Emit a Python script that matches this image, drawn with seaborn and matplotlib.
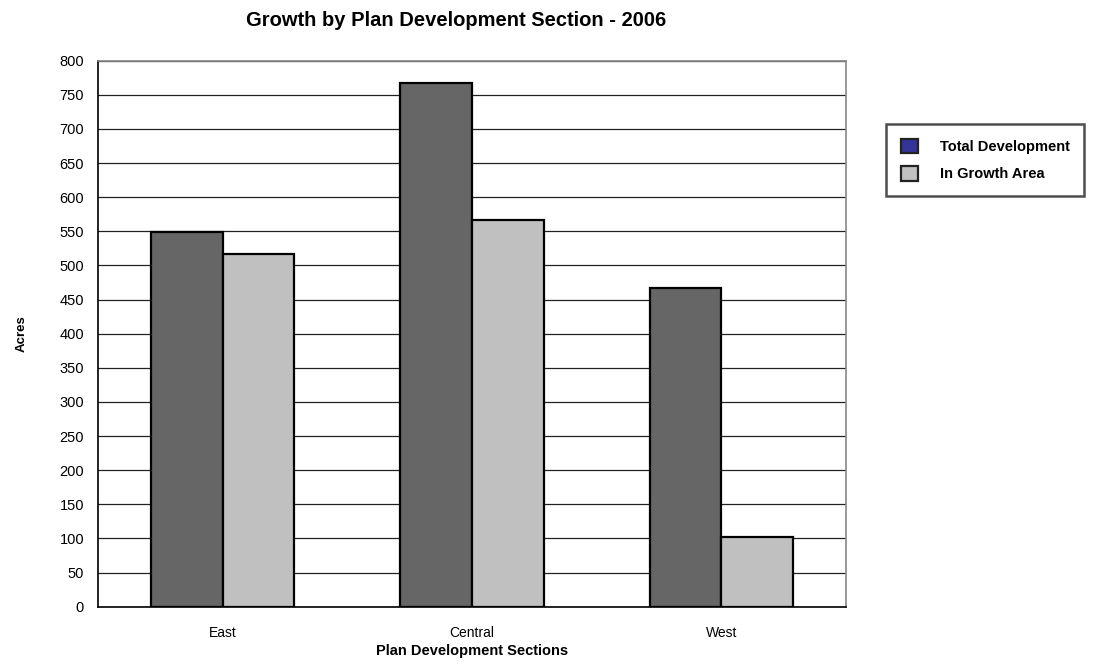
import matplotlib
matplotlib.use("Agg")
import matplotlib.pyplot as plt
from matplotlib.patches import Patch
import seaborn as sns
import pandas as pd
import numpy as np

sections = ["East", "Central", "West"]
total_development = [549, 768, 467]
in_growth_area = [517, 566, 102]
series_names = ["Total Development", "In Growth Area"]
y_ticks = list(range(0, 801, 50))

df = pd.DataFrame({
    "Section": sections * 2,
    "Acres": total_development + in_growth_area,
    "Series": [series_names[0]] * 3 + [series_names[1]] * 3,
})

sns.set_theme(style="white")
plt.rcParams["font.family"] = ["Liberation Sans", "DejaVu Sans"]
plt.rcParams.update({"text.color": "black", "axes.labelcolor": "black",
                     "xtick.color": "black", "ytick.color": "black"})

fig = plt.figure(figsize=(10.97, 6.69), dpi=100)
ax = fig.add_axes([0.0893, 0.0931, 0.7712 - 0.0893, 0.9093 - 0.0931])

bar_colors = {series_names[0]: "#666666", series_names[1]: "#C0C0C0"}
sns.barplot(data=df, x="Section", y="Acres", hue="Series", order=sections,
            hue_order=series_names, palette=bar_colors, width=0.574,
            edgecolor="black", linewidth=1.6, saturation=1, ax=ax, legend=False,
            zorder=3)

ax.set_ylim(0, 800)
ax.set_xlim(-0.5, 2.5)
ax.set_yticks(y_ticks)
ax.set_yticklabels([str(v) for v in y_ticks], fontsize=10.5)
ax.yaxis.grid(True, color="#222222", linewidth=0.9, zorder=0)
ax.set_axisbelow(True)

# category labels centred, tick marks between categories
ax.set_xticks(range(len(sections)))
ax.set_xticklabels(sections, fontsize=10)
ax.set_xticks(np.arange(-0.5, 3.0, 1.0), minor=True)
ax.tick_params(axis="x", which="major", length=0, pad=14)
ax.tick_params(axis="x", which="minor", length=5, width=1, color="black", direction="out")
ax.tick_params(axis="y", which="major", length=5, width=1, color="black", direction="out", pad=5)

for side in ["left", "bottom"]:
    ax.spines[side].set_color("black")
    ax.spines[side].set_linewidth(1.2)
for side in ["top", "right"]:
    ax.spines[side].set_visible(True)
    ax.spines[side].set_color("#888888")
    ax.spines[side].set_linewidth(1.2)

ax.set_xlabel("Plan Development Sections", fontsize=10.5, fontweight="bold", labelpad=3)
ax.set_ylabel("Acres", fontsize=9.5, fontweight="bold", labelpad=23)

fig.text(0.416, 0.969, "Growth by Plan Development Section - 2006",
         ha="center", va="center", fontsize=14.5, fontweight="bold")

handles = [Patch(facecolor="#333399", edgecolor="#222222", linewidth=1.6),
           Patch(facecolor="#C0C0C0", edgecolor="#222222", linewidth=1.6)]
leg = fig.legend(handles, series_names, loc="upper left",
                 bbox_to_anchor=(0.8077, 0.8146), frameon=True, fancybox=False,
                 prop={"size": 10.5, "weight": "bold"}, handlelength=1.2,
                 handleheight=1.15, handletextpad=1.5, borderpad=1.0,
                 borderaxespad=0, labelspacing=0.85)
leg.get_frame().set_edgecolor("#222222")
leg.get_frame().set_linewidth(1.8)

fig.savefig("out.png", dpi=100)
